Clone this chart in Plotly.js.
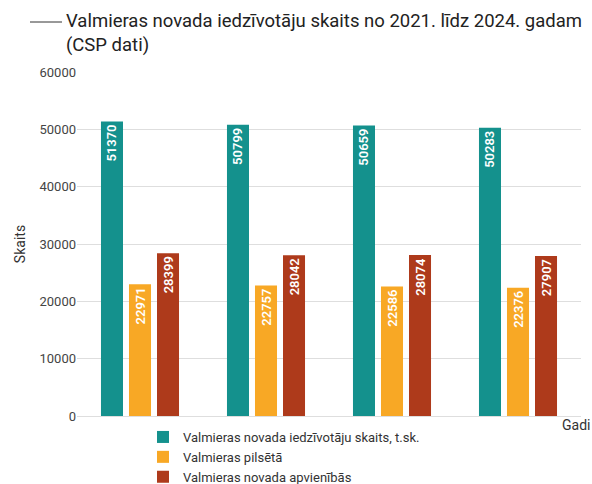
<!DOCTYPE html>
<html><head><meta charset="utf-8">
<script src="https://cdn.plot.ly/plotly-3.0.1.min.js"></script>
<style>html,body{margin:0;padding:0;background:#fff}</style>
</head><body>
<div id="chart" style="width:592px;height:484px"></div>
<script>
const years = ["2021", "2022", "2023", "2024"];
const seriesNames = ["Valmieras novada iedzīvotāju skaits, t.sk.", "Valmieras pilsētā", "Valmieras novada apvienībās"];
const novads = [51370, 50799, 50659, 50283];
const pilseta = [22971, 22757, 22586, 22376];
const apvienibas = [28399, 28042, 28074, 27907];
const titleText = "Valmieras novada iedzīvotāju skaits no 2021. līdz 2024. gadam<br>(CSP dati)";
const colors = ["#14918d", "#f8a825", "#ae3a1b"];
const F = "Roboto, 'Liberation Sans', sans-serif";

const allVals = [novads, pilseta, apvienibas];
const traces = allVals.map((v, i) => ({
  type: "bar", x: years, y: v, name: seriesNames[i],
  marker: {color: colors[i]},
  text: v.map(String), textposition: "inside", insidetextanchor: "end",
  textangle: -90,
  textfont: {color: "#ffffff", size: 13, family: F, weight: 600},
  hoverinfo: "skip"
}));

const px = x => (x - 77) / 504;
const py = y => (416 - y) / 344;

const layout = {
  width: 592, height: 484,
  margin: {l: 77, r: 11, t: 72, b: 68, autoexpand: false},
  paper_bgcolor: "#fff", plot_bgcolor: "#fff",
  font: {family: F, color: "#333"},
  barmode: "group", bargap: 0.333, bargroupgap: 0.214,
  xaxis: {showticklabels: false, ticks: "", showgrid: false, zeroline: false, showline: false},
  yaxis: {range: [0, 60000], dtick: 10000, tickformat: "d", showgrid: true, gridcolor: "#dedede", zeroline: true, zerolinecolor: "#dedede",
    ticks: "", tickfont: {size: 13, color: "#444"},
    title: {text: "Skaits", font: {size: 14, color: "#333"}, standoff: 10}},
  showlegend: true,
  legend: {orientation: "v", x: px(143), y: py(422), yanchor: "top", xanchor: "left",
    font: {size: 13, color: "#333"}, tracegroupgap: 0, itemwidth: 30},
  annotations: [
    {text: "Gadi", xref: "paper", yref: "paper", x: px(592), y: py(416), xanchor: "right", yanchor: "top", yshift: 1,
     showarrow: false, font: {size: 14, color: "#333"}},
    {text: titleText, xref: "paper", yref: "paper", x: px(64), y: py(8), xanchor: "left", yanchor: "top", align: "left",
     showarrow: false, font: {size: 18.5, color: "#222", family: F}}
  ],
  shapes: [{type: "line", xref: "paper", yref: "paper", x0: px(30), x1: px(62), y0: py(22), y1: py(22),
    line: {color: "#333", width: 1}}]
};
Plotly.newPlot("chart", traces, layout, {displayModeBar: false, staticPlot: true});
</script>
</body></html>
